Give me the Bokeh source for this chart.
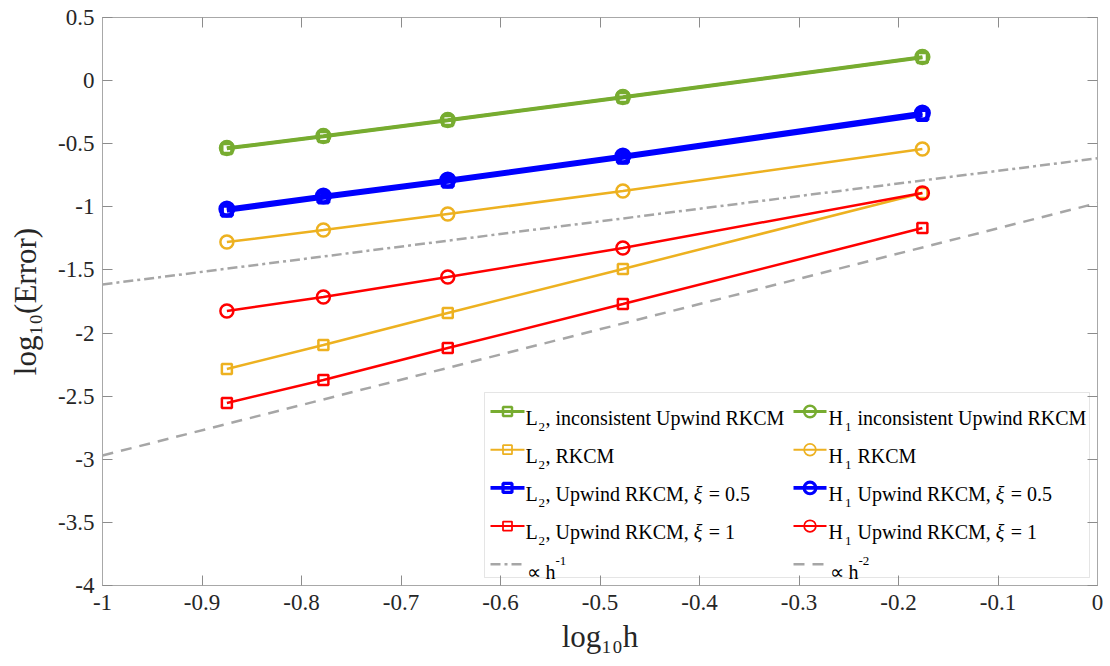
from bokeh.plotting import figure
from bokeh.models import (Range1d, LinearAxis, FixedTicker, CustomJSTickFormatter,
                          Label, BoxAnnotation)
from bokeh.embed import file_html
from bokeh.resources import INLINE

# ---- data: log10 of mesh size and log10 of the error norms ----
log_h = [-0.875, -0.778, -0.653, -0.477, -0.176]

l2_inconsistent = [-0.538, -0.443, -0.316, -0.134, 0.183]
h1_inconsistent = [-0.534, -0.439, -0.312, -0.130, 0.187]
l2_rkcm = [-2.285, -2.095, -1.841, -1.492, -0.890]
h1_rkcm = [-1.279, -1.184, -1.057, -0.875, -0.542]
l2_upwind_05 = [-1.030, -0.926, -0.800, -0.610, -0.272]
h1_upwind_05 = [-1.017, -0.914, -0.788, -0.597, -0.257]
l2_upwind_1 = [-2.554, -2.372, -2.119, -1.770, -1.168]
h1_upwind_1 = [-1.825, -1.714, -1.556, -1.326, -0.890]

# reference slopes
ref_x = [-1.0, 0.0]
ref_h1 = [-1.615, -0.615]
ref_h2 = [-2.97, -0.97]

x_ticks = [-1, -0.9, -0.8, -0.7, -0.6, -0.5, -0.4, -0.3, -0.2, -0.1, 0]
y_ticks = [0.5, 0, -0.5, -1, -1.5, -2, -2.5, -3, -3.5, -4]

GREEN, ORANGE, BLUE, RED, GRAY = "#77AC30", "#EDB120", "#0000FF", "#FF0000", "#A6A6A6"
FONT = "Liberation Serif"
AX = "#A8A8A8"
TXT = "#262626"

X0, X1, Y0, Y1 = -1.0, 0.0, -4.0, 0.5
FL, FT, FW, FH = 102, 17, 995, 568
W, H = 1110, 666

p = figure(width=W, height=H, x_range=Range1d(X0, X1), y_range=Range1d(Y0, Y1),
           output_backend="svg", toolbar_location=None,
           frame_width=FW, frame_height=FH,
           min_border_left=FL, min_border_top=FT,
           min_border_right=W - FL - FW, min_border_bottom=H - FT - FH)
p.background_fill_color = "white"
p.border_fill_color = "white"
p.outline_line_color = AX
p.outline_line_width = 1
p.xgrid.visible = False
p.ygrid.visible = False

blank = CustomJSTickFormatter(code="return '';")
fmt = CustomJSTickFormatter(code="return String(Math.round(tick * 10) / 10);")

xa = p.xaxis[0]
ya = p.yaxis[0]
xa.ticker = FixedTicker(ticks=x_ticks)
ya.ticker = FixedTicker(ticks=y_ticks)

for ax in (xa, ya):
    ax.formatter = fmt
    ax.major_label_text_font = FONT
    ax.major_label_text_font_size = "23px"
    ax.major_label_text_color = TXT
    ax.axis_line_color = AX
    ax.major_tick_line_color = "#8C8C8C"
    ax.major_tick_in = 10
    ax.major_tick_out = 0
    ax.minor_tick_line_color = None
    ax.axis_label_text_font = FONT
    ax.axis_label_text_font_size = "31px"
    ax.axis_label_text_font_style = "normal"
    ax.axis_label_text_color = TXT
xa.major_label_standoff = 9
ya.major_label_standoff = 8
xa.axis_label = "log\u2081\u2080h"
xa.axis_label_standoff = 6
ya.axis_label = "log\u2081\u2080(Error)"
ya.axis_label_standoff = 12

p.add_layout(LinearAxis(ticker=FixedTicker(ticks=y_ticks), formatter=blank,
                        axis_line_color=AX, major_tick_line_color="#8C8C8C",
                        major_tick_in=10, major_tick_out=0,
                        minor_tick_line_color=None, major_label_text_font_size="1px",
                        major_label_standoff=0), "right")
p.add_layout(LinearAxis(ticker=FixedTicker(ticks=x_ticks), formatter=blank,
                        axis_line_color=AX, major_tick_line_color="#8C8C8C",
                        major_tick_in=10, major_tick_out=0,
                        minor_tick_line_color=None, major_label_text_font_size="1px",
                        major_label_standoff=0), "above")


def dx(px):
    return X0 + (px - FL) / FW * (X1 - X0)


def dy(py):
    return Y1 - (py - FT) / FH * (Y1 - Y0)


# ---- error curves ----
series = [
    (l2_inconsistent, GREEN, 3.5, "square"),
    (h1_inconsistent, GREEN, 3.5, "circle"),
    (l2_rkcm, ORANGE, 2.5, "square"),
    (h1_rkcm, ORANGE, 2.5, "circle"),
    (l2_upwind_05, BLUE, 4.5, "square"),
    (h1_upwind_05, BLUE, 4.5, "circle"),
    (l2_upwind_1, RED, 2.5, "square"),
    (h1_upwind_1, RED, 2.5, "circle"),
]
MSIZE = {"square": 10, "circle": 13}

for ys, color, lw, marker in series:
    p.line(log_h, ys, line_color=color, line_width=lw)
    p.scatter(log_h, ys, marker=marker, size=MSIZE[marker], line_color=color,
              line_width=lw * 0.8 + 0.5, fill_color=None)

p.line(ref_x, ref_h1, line_color=GRAY, line_width=2.5, line_dash="10 4 3 4")
p.line(ref_x, ref_h2, line_color=GRAY, line_width=2.5, line_dash="11 8")

# ---- legend ----
LEG_L, LEG_R, LEG_T, LEG_B = 484, 1089, 392, 577
p.add_layout(BoxAnnotation(left=dx(LEG_L), right=dx(LEG_R), top=dy(LEG_T), bottom=dy(LEG_B),
                           fill_color="white", fill_alpha=1.0, line_color=AX,
                           line_width=1, level="underlay"))

ROW0, ROWSTEP = 411, 38.2
COLS = [(490, 524, 525), (793, 826, 828)]


def text(px, py, s, size="20px", style="normal"):
    p.add_layout(Label(x=dx(px), y=dy(py), text=s, text_font=FONT,
                       text_font_size=size, text_font_style=style, text_color="black",
                       text_align="left", text_baseline="alphabetic",
                       level="overlay"))


legend_rows = [
    (series[0], series[1], ", inconsistent Upwind RKCM", "inconsistent Upwind RKCM", None),
    (series[2], series[3], ", RKCM", "RKCM", None),
    (series[4], series[5], ", Upwind RKCM, ", "Upwind RKCM, ", "= 0.5"),
    (series[6], series[7], ", Upwind RKCM, ", "Upwind RKCM, ", "= 1"),
]

EM = 20.0
widths = {",": .25, " ": .25, "U": .722, "p": .5, "w": .722, "i": .278, "n": .5,
          "d": .5, "R": .667, "K": .722, "C": .667, "M": .889}


def tw(s):
    return sum(widths.get(c, .5) for c in s) * EM


for i, (s_l2, s_h1, rest_l2, rest_h1, xi) in enumerate(legend_rows):
    ry = ROW0 + ROWSTEP * i
    for (x_a, x_b, x_t), s, head, sub, rest, rx in (
            (COLS[0], s_l2, "L", "2", rest_l2, 545),
            (COLS[1], s_h1, "H", "1", rest_h1, 857)):
        _, color, lw, marker = s
        p.line([dx(x_a), dx(x_b)], [dy(ry), dy(ry)], line_color=color, line_width=lw * 0.8)
        p.scatter([dx((x_a + x_b) / 2)], [dy(ry)], marker=marker, size=MSIZE[marker] * 0.9,
                  line_color=color, line_width=lw * 0.7, fill_color=None)
        text(x_t, ry + 6, head)
        text(x_t + (13 if head == "L" else 16.5), ry + 15, sub, size="13px")
        text(rx, ry + 6, rest)
        if xi:
            xx = rx + tw(rest)
            text(xx, ry + 6, "\u03be", style="italic")
            text(xx + 15, ry + 6, xi)

# reference slope entries
ry = ROW0 + ROWSTEP * 4
for (x_a, x_b, x_t), dash, sup in ((COLS[0], "10 4 3 4", "-1"), (COLS[1], "11 8", "-2")):
    p.line([dx(x_a), dx(x_b)], [dy(ry), dy(ry)], line_color=GRAY, line_width=2.5,
           line_dash=dash)
    text(x_t + 1, ry + 8, "\u221d")
    text(x_t + 20, ry + 8, "h")
    text(x_t + 30, ry - 3, sup, size="13px")

open("out.html", "w").write(file_html(p, INLINE))
